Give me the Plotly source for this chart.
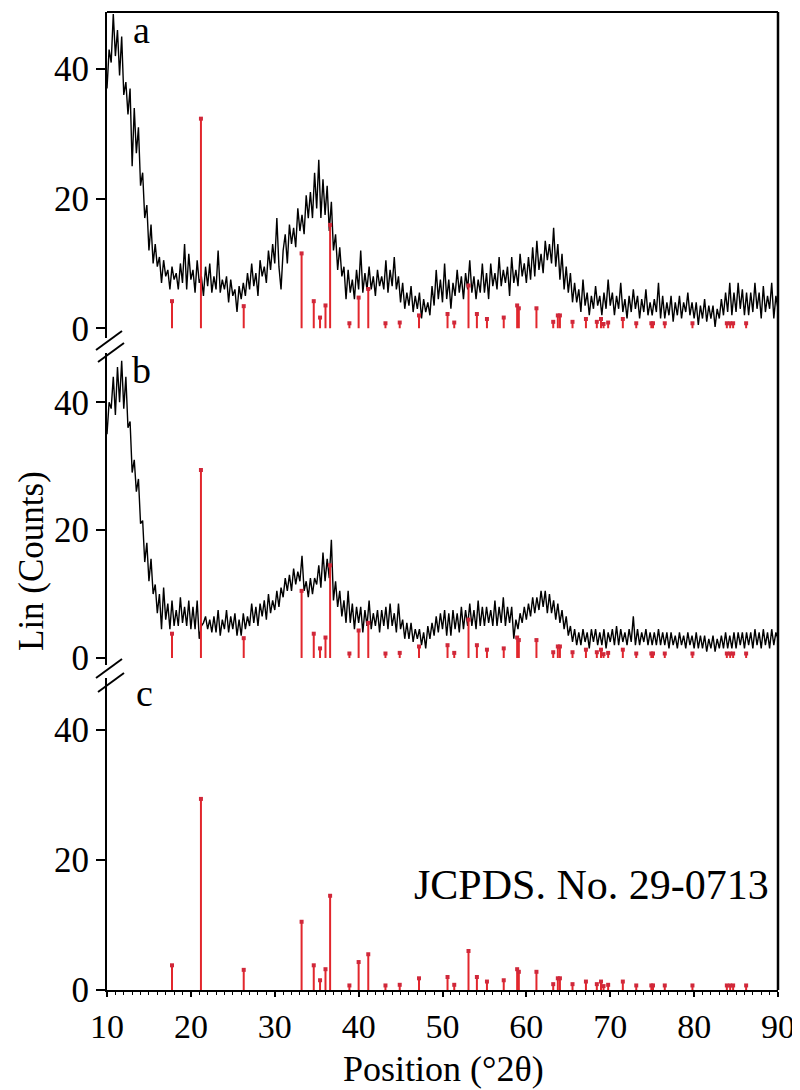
import plotly.graph_objects as go

start_2theta = 10.0
step_2theta = 0.25

counts_a = [
    37, 43, 41, 48.5, 42, 46, 39, 45, 36, 38, 33, 37, 25, 34, 27, 31, 22, 24, 17, 19,
    12, 16, 10, 13, 9.5, 11, 7, 10.5, 8, 9, 6, 9.5, 7.5, 8.5, 6, 10, 7, 13, 6, 11.5,
    7.5, 9, 5.5, 10.5, 7, 8, 5, 9.5, 6.5, 10, 5.5, 8, 6, 12, 5.5, 7.5, 6, 8, 4, 7.5,
    5, 6, 2.5, 6.5, 4.5, 7, 5, 8.5, 6, 10, 6.5, 8.5, 5, 10.5, 8, 9.5, 7, 12, 9, 13,
    10, 17, 9.5, 6, 12, 14.5, 10, 16, 13, 15.5, 12.5, 18.5, 15, 17.5, 14.5, 20.5, 17, 21, 17, 24,
    18.5, 26, 17, 23, 17.5, 22, 15, 19.5, 12, 14.5, 9, 12.5, 8, 9.5, 4.5, 9, 5.5, 7.5, 4.5, 9,
    6, 12, 5.5, 8.5, 6, 9.5, 6, 8, 5, 9, 6.5, 8, 6, 10.5, 5.5, 9, 6.5, 11, 6, 8,
    4, 7, 3, 5.5, 3.5, 6.5, 2.5, 5, 3, 5.5, 1.5, 4.5, 2.5, 4, 2, 6.5, 3.5, 9, 4.5, 7.5,
    4, 10, 4.5, 7.5, 3, 7, 5, 9, 5.5, 8, 4.5, 8.5, 6, 10.5, 5.5, 8, 4.5, 7.5, 5.5, 10,
    5.5, 8.5, 4.5, 10, 6.5, 8.5, 6, 11, 6.5, 9, 7, 9.5, 5, 11, 7, 9, 6.5, 11.5, 8, 10,
    7, 11, 7.5, 12.5, 8, 13.5, 9, 11.5, 8.5, 13.5, 10.5, 13, 10, 15.5, 9.5, 13, 7.5, 11.5, 6, 9.5,
    5.5, 8.5, 4, 7, 4, 6, 2.5, 7.5, 3.5, 5.5, 2, 5, 3, 6.5, 3.5, 5, 2, 5.5, 3, 7.5,
    3.5, 5.5, 2, 5, 3, 7, 2.5, 4.5, 1.5, 5, 2.5, 6, 3, 5, 1.5, 4.5, 2.5, 6, 2, 4,
    2, 4.5, 2.5, 7, 1.5, 5, 1.5, 4, 2, 5, 1, 4, 2, 5, 1.5, 4, 2.5, 5.5, 2, 4,
    1.5, 4, 0.5, 3.5, 1.5, 4.5, 1, 3.5, 1.5, 3.5, 0.2, 3, 1.5, 4.5, 2, 5.5, 2.5, 7, 2, 5.5,
    2.5, 7, 3, 6, 2, 5.5, 2, 5.5, 2.5, 7, 3, 5.5, 1.5, 6.5, 2.5, 5, 3, 7, 1.5, 5,
    3,
]

counts_b = [
    35, 40, 39, 44, 38, 45.5, 40, 46.5, 39, 44, 36, 37, 29, 31, 26, 28, 21, 21.5, 15, 18,
    12, 15.5, 10, 11.5, 7, 10, 4.5, 11, 6, 8.5, 4.5, 9, 5, 7.5, 5, 9.5, 5.5, 8, 5, 9,
    4.5, 8, 4.5, 9, 3, 5, 5.5, 6.5, 4.5, 6, 4, 6.5, 4, 7.5, 3.5, 6, 4.5, 7.5, 4, 6.5,
    4.5, 7, 3.5, 6, 3.5, 7, 4.5, 6.5, 5, 8.5, 5.5, 8, 5, 8.5, 6.5, 9, 6, 10, 7, 9,
    7.5, 10.5, 8, 11, 9.5, 12.5, 10.5, 13, 10.5, 14, 11.5, 13.5, 12, 16, 10.5, 12, 9.5, 12.5, 10, 12.5,
    11.5, 14.5, 11, 16.5, 12, 15.5, 12.5, 18.5, 9, 12, 8, 10.5, 6.5, 9, 5.5, 10.5, 5.5, 8.5, 4.5, 8,
    5.5, 8, 4, 7.5, 5, 9, 4.5, 7, 5, 7.5, 4, 7.5, 5, 8, 4.5, 8.5, 5, 7, 4, 8.5,
    4.5, 6, 3, 5.5, 3, 5.5, 2.5, 4.5, 3, 4.5, 2, 4, 1.5, 5, 3, 5.5, 3.5, 6.5, 4, 7,
    4.5, 7.5, 3.5, 7, 3.5, 7.5, 4.5, 7, 4, 8, 4.5, 7.5, 5, 8.5, 5, 7.5, 4.5, 9, 5, 8,
    5, 8, 5.5, 7.5, 5, 9, 5, 8, 5.5, 9.5, 5, 8, 5.5, 8, 3, 6, 4.5, 7, 5.5, 8,
    6, 8.5, 6.5, 9.5, 7, 9.5, 7.5, 10.5, 8, 10.5, 7, 10, 7, 9, 6, 8.5, 5.5, 7.5, 4.5, 6.5,
    3.5, 5, 2.5, 4.5, 2, 4, 2, 4.5, 2.5, 4, 1.5, 4.5, 2.5, 4.5, 2, 4, 2, 4.5, 1.5, 4,
    2.5, 4.5, 2, 5, 2, 4.5, 2.5, 4, 2, 4.5, 2.5, 6.5, 2, 4.5, 2, 4, 2.5, 4.5, 2, 4,
    2, 4, 2, 4.5, 2, 4, 2, 4, 1.5, 4, 2, 3.5, 1.5, 4, 2, 3.5, 1.5, 4, 2, 3.5,
    1.5, 4, 1.5, 3.5, 1.5, 3.5, 1, 3, 1.5, 3.5, 1, 3, 1.5, 3.5, 1.5, 4, 1.5, 3.5, 1.5, 4,
    1.5, 4, 2, 4, 1.5, 4, 2, 4, 1.5, 4.5, 2, 4, 1.5, 4.5, 2, 4, 1.5, 4.5, 2, 4,
    3,
]

# reference pattern JCPDS 29-0713 (goethite): peak positions and heights
ref_pos = [17.75, 21.2, 26.3, 33.2, 34.65, 35.4, 36.05, 36.6, 38.9, 40.0,
           41.15, 43.2, 44.9, 47.2, 50.6, 51.4, 53.1, 54.1, 55.3, 57.3,
           58.9, 59.1, 61.2, 63.2, 63.75, 64.0, 65.5, 67.1, 68.4, 68.9,
           69.2, 69.75, 71.5, 73.1, 74.9, 75.1, 76.5, 79.8, 83.9, 84.3,
           84.65, 86.2]
ref_int = [3.8, 29.4, 3.1, 10.5, 3.8, 1.5, 3.2, 14.5, 0.7, 4.3,
           5.5, 0.7, 0.8, 1.8, 2.0, 0.8, 6.0, 2.0, 1.3, 1.5,
           3.2, 2.8, 2.8, 0.9, 1.8, 1.8, 0.9, 1.3, 0.9, 1.3,
           0.6, 0.8, 1.3, 0.7, 0.7, 0.7, 0.7, 0.7, 0.7, 0.7,
           0.7, 0.7]
# stick pattern scale used in each panel
ref_scale = [1.1, 1.0, 1.0]

panel_labels = ["a", "b", "c"]
y_ticks = [0, 20, 40]
x_ticks = [10, 20, 30, 40, 50, 60, 70, 80, 90]

RED = "#e2262c"
FONT = "Liberation Serif"

two_theta = [start_2theta + i * step_2theta for i in range(len(counts_a))]

fig = go.Figure()

# measured patterns (a, b)
for yax, counts in [("y", counts_a), ("y2", counts_b)]:
    fig.add_trace(go.Scatter(x=two_theta, y=counts, mode="lines", yaxis=yax,
                             line=dict(color="black", width=1.4), showlegend=False))

# stick patterns in every panel
for yax, scale in zip(["y", "y2", "y3"], ref_scale):
    sx, sy = [], []
    for p, h in zip(ref_pos, ref_int):
        sx += [p, p, None]
        sy += [0, h * scale, None]
    fig.add_trace(go.Scatter(x=sx, y=sy, mode="lines", yaxis=yax,
                             line=dict(color=RED, width=2), showlegend=False))
    fig.add_trace(go.Scatter(x=ref_pos, y=[h * scale for h in ref_int], mode="markers",
                             yaxis=yax, marker=dict(color="#d0283a", symbol="square", size=4),
                             showlegend=False))

# the page puts the figure 8 px in from the window corner
OFF = 8
W, H = 800 - OFF, 1090 - OFF
# plot area in window pixels: x 107..778, y 12..990
L, R, T, B = 107, 778, 12, 990


def px(xp, yp):
    return (xp - L) / (R - L), (B - yp) / (B - T)


yaxis_common = dict(
    showline=True, linecolor="black", linewidth=2, ticks="outside", ticklen=9,
    tickwidth=2, tickcolor="black", tickvals=y_ticks, showgrid=False, zeroline=False,
    tickfont=dict(family=FONT, size=35, color="black"), anchor="x",
)

fig.update_layout(
    width=W, height=H,
    margin=dict(l=L - OFF, r=800 - R, t=T - OFF, b=1090 - B, pad=0),
    paper_bgcolor="white", plot_bgcolor="white",
    xaxis=dict(range=[10, 90], tickvals=x_ticks, showline=True, linecolor="black",
               linewidth=2, ticks="outside", ticklen=5, tickwidth=2, tickcolor="black",
               showgrid=False, zeroline=False, anchor="y3",
               tickfont=dict(family=FONT, size=34, color="black"),
               minor=dict(dtick=1, ticks="outside", ticklen=3, tickwidth=1, tickcolor="black")),
    yaxis=dict(domain=[0.6667, 1.0], range=[-1.5, 48.8], **yaxis_common),
    yaxis2=dict(domain=[0.3323, 0.6513], range=[-1.1, 47.7], **yaxis_common),
    yaxis3=dict(domain=[0.0, 0.319], range=[0, 48], **yaxis_common),
)

# frame top and right
fig.add_shape(type="line", xref="paper", yref="paper", x0=0, y0=1, x1=1, y1=1,
              line=dict(color="black", width=2))
fig.add_shape(type="line", xref="paper", yref="paper", x0=1, y0=0, x1=1, y1=1,
              line=dict(color="black", width=2.5))

# axis break marks
for (x0, y0, x1, y1) in [(96, 350, 122, 331), (98, 362, 124, 343),
                         (96, 678, 122, 659), (98, 692, 124, 673)]:
    a0, b0 = px(x0, y0)
    a1, b1 = px(x1, y1)
    fig.add_shape(type="line", xref="paper", yref="paper", x0=a0, y0=b0, x1=a1, y1=b1,
                  line=dict(color="black", width=2))

# panel letters
for lab, (lx, ly) in zip(panel_labels, [(141, 30), (141, 370), (144, 693)]):
    ax_, ay_ = px(lx, ly)
    fig.add_annotation(text=lab, x=ax_, y=ay_, xref="paper", yref="paper",
                       showarrow=False, xanchor="center", yanchor="middle",
                       font=dict(family=FONT, size=38, color="black"))

jx, jy = px(591, 885)
fig.add_annotation(text="JCPDS. No. 29-0713", x=jx, y=jy, xref="paper", yref="paper",
                   showarrow=False, xanchor="center", yanchor="middle",
                   font=dict(family=FONT, size=42, color="black"))

tx, ty = px(31, 561)
fig.add_annotation(text="Lin (Counts)", x=tx, y=ty, xref="paper", yref="paper",
                   showarrow=False, textangle=-90, xanchor="center", yanchor="middle",
                   font=dict(family=FONT, size=35, color="black"))

xx, xy = px(443, 1069)
fig.add_annotation(text="Position (°2θ)", x=xx, y=xy, xref="paper", yref="paper",
                   showarrow=False, xanchor="center", yanchor="middle",
                   font=dict(family=FONT, size=36, color="black"))

fig.write_html("out.html")
